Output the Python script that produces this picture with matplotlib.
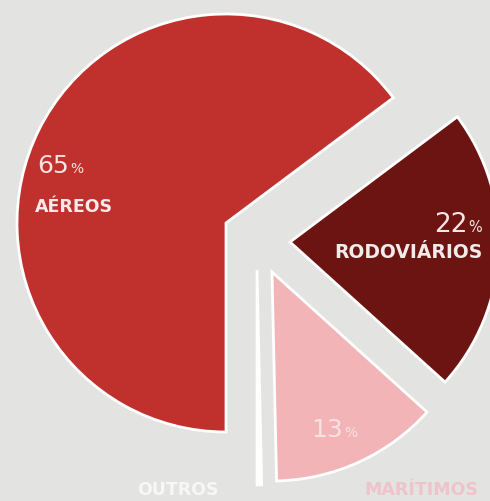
import matplotlib.pyplot as plt

# _____DATA_____
categories = ['AÉREOS', 'RODOVIÁRIOS', 'MARÍTIMOS', 'OUTROS']
shares = [65, 22, 13, 0.35]
share_labels = ['65', '22', '13']

# _____STYLE_____
background = '#e3e3e1'
slice_colors = ['#c0312d', '#6c1411', '#f2b4b6', '#ffffff']
# slice offsets in pixels (x right, y up) - the reference is "exploded" by hand
offsets = [(0, 0), (64, -19), (46, -49), (31, -47)]
center = (226, 501 - 223)
radius = 209

fig = plt.figure(figsize=(4.9, 5.01), dpi=100, facecolor=background)
ax = fig.add_axes([0, 0, 1, 1])
ax.set_facecolor(background)

# draw pie
wedges, _ = ax.pie(shares, colors=slice_colors, startangle=-90, counterclock=False,
                   center=center, radius=radius, frame=True,
                   wedgeprops=dict(edgecolor='white', linewidth=2))

# shift slices by hand
for wedge, (dx, dy) in zip(wedges, offsets):
    wedge.set_center((center[0] + dx, center[1] + dy))
wedges[3].set_radius(radius + 6)

ax.set_xlim(0, 490)
ax.set_ylim(0, 501)
ax.set_aspect('equal')
ax.axis('off')


# labels
def pct(x, y, value, size, color, alpha=1.0):
    t = ax.text(x, y, value, fontsize=size, color=color, alpha=alpha, va='baseline', ha='left')
    fig.canvas.draw()
    bb = t.get_window_extent().transformed(ax.transData.inverted())
    ax.text(bb.x1 + 1, y, '%', fontsize=size * 0.55, color=color, alpha=alpha, va='baseline', ha='left')


pct(37, 501 - 173, share_labels[0], 18, '#fbe3e3')
ax.text(35, 501 - 212, categories[0], fontsize=12.5, fontweight='bold', color='#fbeaea', va='baseline')

pct(434, 501 - 232, share_labels[1], 19, '#f5e6e6')
ax.text(334, 501 - 258, categories[1], fontsize=13.5, fontweight='bold', color='#f3eaea', va='baseline')

pct(311, 501 - 437, share_labels[2], 18, '#ffffff', alpha=0.6)

ax.text(137, 501 - 495, categories[3], fontsize=12.5, fontweight='bold', color='#f7f7f6', va='baseline')
ax.text(364, 501 - 495, categories[2], fontsize=12.5, fontweight='bold', color='#efc3cb', va='baseline')

plt.savefig('out.png', dpi=100, facecolor=background)
